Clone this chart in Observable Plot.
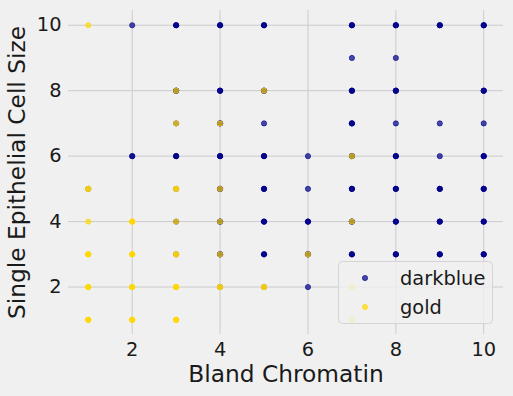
<!DOCTYPE html>
<html>
<head>
<meta charset="utf-8">
<script src="https://cdn.jsdelivr.net/npm/d3@7"></script>
<script src="https://cdn.jsdelivr.net/npm/@observablehq/plot@0.6"></script>
<style>
  html, body { margin: 0; padding: 0; background: #f0f0f0; }
  #wrap { position: relative; width: 513px; height: 396px; }
  #wrap svg text { font-family: "DejaVu Sans", sans-serif; }
  g[aria-label="x-axis label"] text, g[aria-label="y-axis label"] text { font-size: 23.3px; }
  #legend { position: absolute; left: 338px; top: 261px; }
</style>
</head>
<body>
<div id="wrap"></div>
<script>
// Tick labels
const xTicks = [2, 4, 6, 8, 10];
const yTicks = [2, 4, 6, 8, 10];

// darkblue series: Bland Chromatin (x), Single Epithelial Cell Size (y), estimated overlap count
const darkblueX = [1, 2, 2, 3, 3, 3, 3, 3, 3, 3, 4, 4, 4, 4, 4, 4, 4, 4, 5, 5, 5, 5, 5, 5, 5, 5, 6, 6, 6, 6, 6, 7, 7, 7, 7, 7, 7, 7, 7, 8, 8, 8, 8, 8, 8, 8, 8, 9, 9, 9, 9, 9, 9, 10, 10, 10, 10, 10, 10, 10];
const darkblueY = [5, 10, 6, 10, 8, 7, 6, 5, 4, 3, 10, 8, 7, 6, 5, 4, 3, 2, 10, 8, 7, 6, 5, 4, 3, 2, 6, 5, 4, 3, 2, 10, 9, 8, 7, 6, 5, 4, 3, 10, 9, 8, 7, 6, 5, 4, 3, 10, 7, 6, 5, 4, 3, 10, 8, 7, 6, 5, 4, 3];
const darkblueN = [1, 1, 2, 3, 3, 1, 3, 1, 1, 1, 3, 3, 3, 3, 3, 3, 3, 1, 3, 3, 1, 3, 3, 3, 3, 1, 1, 1, 3, 3, 1, 3, 1, 3, 3, 3, 3, 3, 3, 3, 1, 3, 1, 3, 3, 3, 3, 3, 1, 1, 3, 3, 3, 3, 3, 1, 3, 3, 3, 3];

// gold series
const goldX = [1, 1, 1, 1, 1, 1, 2, 2, 2, 2, 3, 3, 3, 3, 3, 3, 3, 4, 4, 4, 4, 4, 5, 5, 6, 7, 7, 7, 7];
const goldY = [10, 5, 4, 3, 2, 1, 4, 3, 2, 1, 8, 7, 5, 4, 3, 2, 1, 7, 5, 4, 3, 2, 8, 2, 3, 6, 4, 2, 1];
const goldN = [1, 2, 1, 3, 3, 3, 3, 3, 3, 3, 1, 1, 2, 1, 2, 3, 3, 1, 1, 1, 1, 2, 1, 2, 1, 1, 1, 1, 1];

const seriesNames = ["darkblue", "gold"];
const seriesColors = ["darkblue", "gold"];

function expand(xs, ys, ns) {
  const rows = [];
  xs.forEach((x, i) => { for (let k = 0; k < ns[i]; k++) rows.push({x, y: ys[i]}); });
  return rows;
}
const blueRows = expand(darkblueX, darkblueY, darkblueN);
const goldRows = expand(goldX, goldY, goldN);

const dotOpts = c => ({x: "x", y: "y", r: 2.6, fill: c, fillOpacity: 0.7, stroke: c, strokeOpacity: 0.7, strokeWidth: 0.9});

const chart = Plot.plot({
  width: 513,
  height: 396,
  marginLeft: 68,
  marginRight: 10,
  marginTop: 10,
  marginBottom: 62,
  style: {background: "#f0f0f0", fontFamily: "DejaVu Sans", fontSize: "19.4px", color: "#1a1a1a", overflow: "visible"},
  x: {domain: [0.55, 10.45]},
  y: {domain: [0.55, 10.45]},
  marks: [
    Plot.gridX(xTicks, {stroke: "#cbcbcb", strokeOpacity: 1, strokeWidth: 1}),
    Plot.gridY(yTicks, {stroke: "#cbcbcb", strokeOpacity: 1, strokeWidth: 1}),
    Plot.axisX(xTicks, {tickSize: 0, tickPadding: 8, label: "Bland Chromatin", labelAnchor: "center", labelArrow: "none", labelOffset: 47}),
    Plot.axisY(yTicks, {tickSize: 0, tickPadding: 7, label: "Single Epithelial Cell Size", labelAnchor: "center", labelArrow: "none", labelOffset: 60}),
    Plot.dot(blueRows, dotOpts(seriesColors[0])),
    Plot.dot(goldRows, dotOpts(seriesColors[1]))
  ]
});
const wrap = document.getElementById("wrap");
wrap.appendChild(chart);

// Legend (drawn as an overlay box inside the plot area, like matplotlib's)
const lw = 155, lh = 63;
const leg = d3.select(wrap).append("svg")
  .attr("id", "legend").attr("width", lw).attr("height", lh);
leg.append("rect").attr("x", 0.5).attr("y", 0.5).attr("width", lw - 1).attr("height", lh - 1)
  .attr("rx", 4).attr("fill", "#f0f0f0").attr("fill-opacity", 0.8).attr("stroke", "#d4d4d4");
seriesNames.forEach((name, i) => {
  const cy = 17 + i * 29;
  leg.append("circle").attr("cx", 27).attr("cy", cy).attr("r", 2.6)
    .attr("fill", seriesColors[i]).attr("fill-opacity", 0.7)
    .attr("stroke", seriesColors[i]).attr("stroke-opacity", 0.7).attr("stroke-width", 0.9);
  leg.append("text").attr("x", 62).attr("y", cy).attr("dy", "0.35em")
    .attr("font-size", "19.4px").attr("fill", "#1a1a1a").text(name);
});
</script>
</body>
</html>
